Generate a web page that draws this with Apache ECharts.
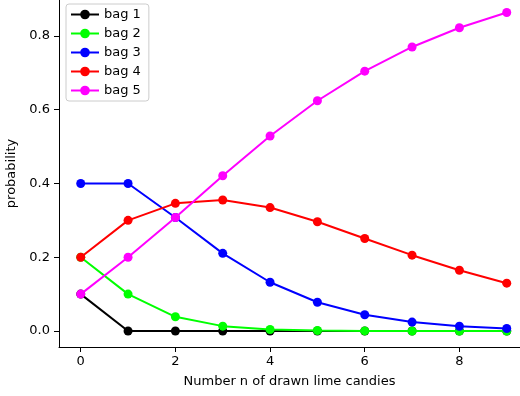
<!DOCTYPE html>
<html>
<head>
<meta charset="utf-8">
<script src="https://cdn.jsdelivr.net/npm/echarts@6/dist/echarts.min.js"></script>
<style>
html, body { margin: 0; padding: 0; background: #fff; }
#chart { width: 520px; height: 396px; }
</style>
</head>
<body>
<div id="chart"></div>
<script>
// number of lime candies drawn
var nValues = [0, 1, 2, 3, 4, 5, 6, 7, 8, 9];
var bagNames = ['bag 1', 'bag 2', 'bag 3', 'bag 4', 'bag 5'];
var bag1 = [0.1, 0, 0, 0, 0, 0, 0, 0, 0, 0];
var bag2 = [0.2, 0.1, 0.0385, 0.0132, 0.0041, 0.0012, 0.0003, 0.0001, 0, 0];
var bag3 = [0.4, 0.4, 0.3077, 0.2105, 0.1322, 0.0780, 0.0440, 0.0241, 0.0129, 0.0067];
var bag4 = [0.2, 0.3, 0.3462, 0.3553, 0.3347, 0.2963, 0.2509, 0.2056, 0.1647, 0.1297];
var bag5 = [0.1, 0.2, 0.3077, 0.4211, 0.5289, 0.6244, 0.7047, 0.7702, 0.8224, 0.8636];
var xTicks = [0, 2, 4, 6, 8];
var yTicks = [0, 0.2, 0.4, 0.6, 0.8];
var colors = ['#000000', '#00ff00', '#0000ff', '#ff0000', '#ff00ff'];

var myChart = echarts.init(document.getElementById('chart'));
var font = 'DejaVu Sans';

function pairs(vals) {
	return nValues.map(function (n, i) { return [n, vals[i]]; });
}

var series = [bag1, bag2, bag3, bag4, bag5].map(function (vals, i) {
	return {
		name: bagNames[i],
		type: 'line',
		data: pairs(vals),
		symbol: 'circle',
		symbolSize: 9,
		showSymbol: true,
		lineStyle: { width: 2, color: colors[i] },
		itemStyle: { color: colors[i] },
		z: 2 + i
	};
});

myChart.setOption({
	animation: false,
	grid: { left: 59, right: 0, top: 0, bottom: 49, outerBoundsMode: 'none', containLabel: false },
	legend: {
		orient: 'vertical',
		left: 66,
		top: 4,
		padding: [4, 8, 4, 4],
		itemWidth: 28,
		itemHeight: 12,
		itemGap: 6,
		backgroundColor: 'rgba(255,255,255,0.8)',
		borderColor: '#cccccc',
		borderWidth: 1,
		borderRadius: 3,
		textStyle: { fontFamily: font, fontSize: 13, color: '#000' },
		data: bagNames
	},
	xAxis: {
		type: 'value',
		min: -0.459,
		max: 9.28,
		name: 'Number n of drawn lime candies',
		nameLocation: 'middle',
		nameGap: 28,
		nameTextStyle: { fontFamily: font, fontSize: 13, color: '#000' },
		axisLine: { onZero: false, lineStyle: { color: '#000', width: 1 } },
		axisTick: { show: true, length: 5, customValues: xTicks, lineStyle: { color: '#000' } },
		axisLabel: { customValues: xTicks, fontFamily: font, fontSize: 13, color: '#000', margin: 8 },
		splitLine: { show: false }
	},
	yAxis: {
		type: 'value',
		min: -0.0434,
		max: 0.8976,
		name: 'probability',
		nameLocation: 'middle',
		nameGap: 31,
		nameTextStyle: { fontFamily: font, fontSize: 13, color: '#000' },
		axisLine: { onZero: false, lineStyle: { color: '#000', width: 1 } },
		axisTick: { show: true, length: 5, customValues: yTicks, lineStyle: { color: '#000' } },
		axisLabel: {
			customValues: yTicks,
			fontFamily: font, fontSize: 13, color: '#000', margin: 9,
			formatter: function (v) { return v.toFixed(1); }
		},
		splitLine: { show: false }
	},
	series: series
});
</script>
</body>
</html>
